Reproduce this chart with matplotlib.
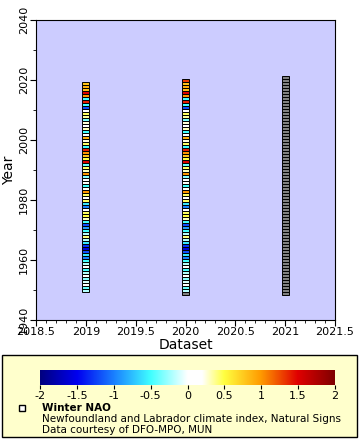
import matplotlib
matplotlib.use("Agg")
import matplotlib.pyplot as plt
import numpy as np
from matplotlib.colors import LinearSegmentedColormap, Normalize
from matplotlib.patches import Rectangle
from matplotlib.lines import Line2D

# NAO values, year 2020 down to 1950
nao_desc = [1.3, 0.8, 0.9, 0.8, 1.5, 1.0, -0.5, 1.4, -0.5, -1.2,
            0.0, 0.45, 0.35, -0.35, 0.25, 0.0, 0.3, -0.5, 0.0, 0.9,
            0.25, 0.45, -0.5, 1.4, 1.0, 0.8, 0.5, 1.5, -0.4, 0.45,
            0.3, 1.0, -0.3, 0.1, 0.0, -0.5, 0.2, 1.0, 0.45, 0.2,
            0.45, -0.6, -1.0, 0.2, 0.45, 0.5, 0.3, -0.5, -1.2, -0.9,
            -0.5, -0.2, 0.4, -0.2, -0.6, -1.3, -1.6, -1.2, -0.6, -1.0,
            -0.5, -0.2, 0.0, -0.5, -0.2, 0.0, -0.3, -0.1, 0.05, -0.4,
            -0.2]
years_all = list(range(2020, 1949, -1))
nao = dict(zip(years_all, nao_desc))

datasets = [2019, 2020, 2021]
ds_years = [list(range(1950, 2020)), list(range(1949, 2021)), list(range(1949, 2022))]
ds_has_data = [True, True, False]

cbar_ticks = [-2, -1.5, -1, -0.5, 0, 0.5, 1, 1.5, 2]
cbar_labels = ["-2", "-1.5", "-1", "-0.5", "0", "0.5", "1", "1.5", "2"]
xticks = [2018.5, 2019, 2019.5, 2020, 2020.5, 2021, 2021.5]
xtick_labels = ["2018.5", "2019", "2019.5", "2020", "2020.5", "2021", "2021.5"]
yticks = [1940, 1960, 1980, 2000, 2020, 2040]

cmap = LinearSegmentedColormap.from_list("nao", [
    (0.0, "#00007f"), (0.125, "#0000f0"), (0.25, "#1a80ff"),
    (0.375, "#40ffff"), (0.5, "#ffffff"), (0.55, "#ffffff"),
    (0.625, "#ffff40"), (0.75, "#ff9a00"), (0.875, "#e00000"),
    (1.0, "#800000")])
norm = Normalize(-2, 2)

W, H = 360, 440
fig = plt.figure(figsize=(W / 100, H / 100), dpi=100)
fig.patch.set_facecolor("white")

# bottom legend panel (drawn behind the colorbar axes)
fig.patches.append(Rectangle((2 / W, 1 - 437 / H), 355 / W, 82 / H,
                             transform=fig.transFigure, facecolor="#ffffcc",
                             edgecolor="black", linewidth=1.0, zorder=-5))

ax = fig.add_axes([36 / W, 1 - 320 / H, (335 - 36) / W, 300 / H])
ax.set_facecolor("#ccccff")
ax.set_xlim(2018.5, 2021.5)
ax.set_ylim(1940, 2040)

for ds, yrs, has in zip(datasets, ds_years, ds_has_data):
    cols = []
    for y in yrs:
        if has and y in nao:
            cols.append(cmap(norm(nao[y])))
        else:
            cols.append("#808080")
    yrs_arr = np.array(yrs)
    ax.bar([ds] * len(yrs), height=1.0, bottom=yrs_arr - 0.5, width=0.072,
           color=cols, edgecolor="black", linewidth=0.7, zorder=3)

ax.set_xticks(xticks)
ax.set_xticklabels(xtick_labels, fontsize=8)
ax.set_yticks(yticks)
ax.set_yticklabels([str(y) for y in yticks], fontsize=8, rotation=90, va="center")
ax.set_xticks(np.arange(2018.5, 2021.51, 0.1), minor=True)
ax.set_yticks(np.arange(1940, 2041, 10), minor=True)
ax.tick_params(axis="both", which="major", length=4, width=0.8, direction="out", pad=1)
ax.tick_params(axis="both", which="minor", length=2, width=0.6, direction="out")
ax.set_xlabel("Dataset", fontsize=10, labelpad=1)
ax.set_ylabel("Year", fontsize=10, labelpad=2)
for s in ax.spines.values():
    s.set_linewidth(0.8)

cax = fig.add_axes([40 / W, 1 - 385 / H, 295 / W, 15 / H])
cax.set_zorder(5)
grad = np.linspace(-2, 2, 512).reshape(1, -1)
cax.imshow(grad, aspect="auto", cmap=cmap, norm=norm, extent=(-2, 2, 0, 1))
cax.set_xlim(-2, 2)
cax.set_yticks([])
cax.set_xticks(cbar_ticks)
cax.set_xticklabels(cbar_labels, fontsize=8)
cax.tick_params(axis="x", length=3, width=0.8, pad=1)
for s in cax.spines.values():
    s.set_visible(False)

fig.add_artist(Line2D([22 / W], [1 - 408 / H], marker="s", markersize=4,
                      markerfacecolor="white", markeredgecolor="black",
                      markeredgewidth=1.0, transform=fig.transFigure))
fig.text(42 / W, 1 - 408 / H, "Winter NAO", fontsize=7.5, fontweight="bold",
         va="center", ha="left")
fig.text(42 / W, 1 - 419 / H, "Newfoundland and Labrador climate index, Natural Signs",
         fontsize=7.5, va="center", ha="left")
fig.text(42 / W, 1 - 430 / H, "Data courtesy of DFO-MPO, MUN",
         fontsize=7.5, va="center", ha="left")

fig.savefig("out.png", dpi=100)
